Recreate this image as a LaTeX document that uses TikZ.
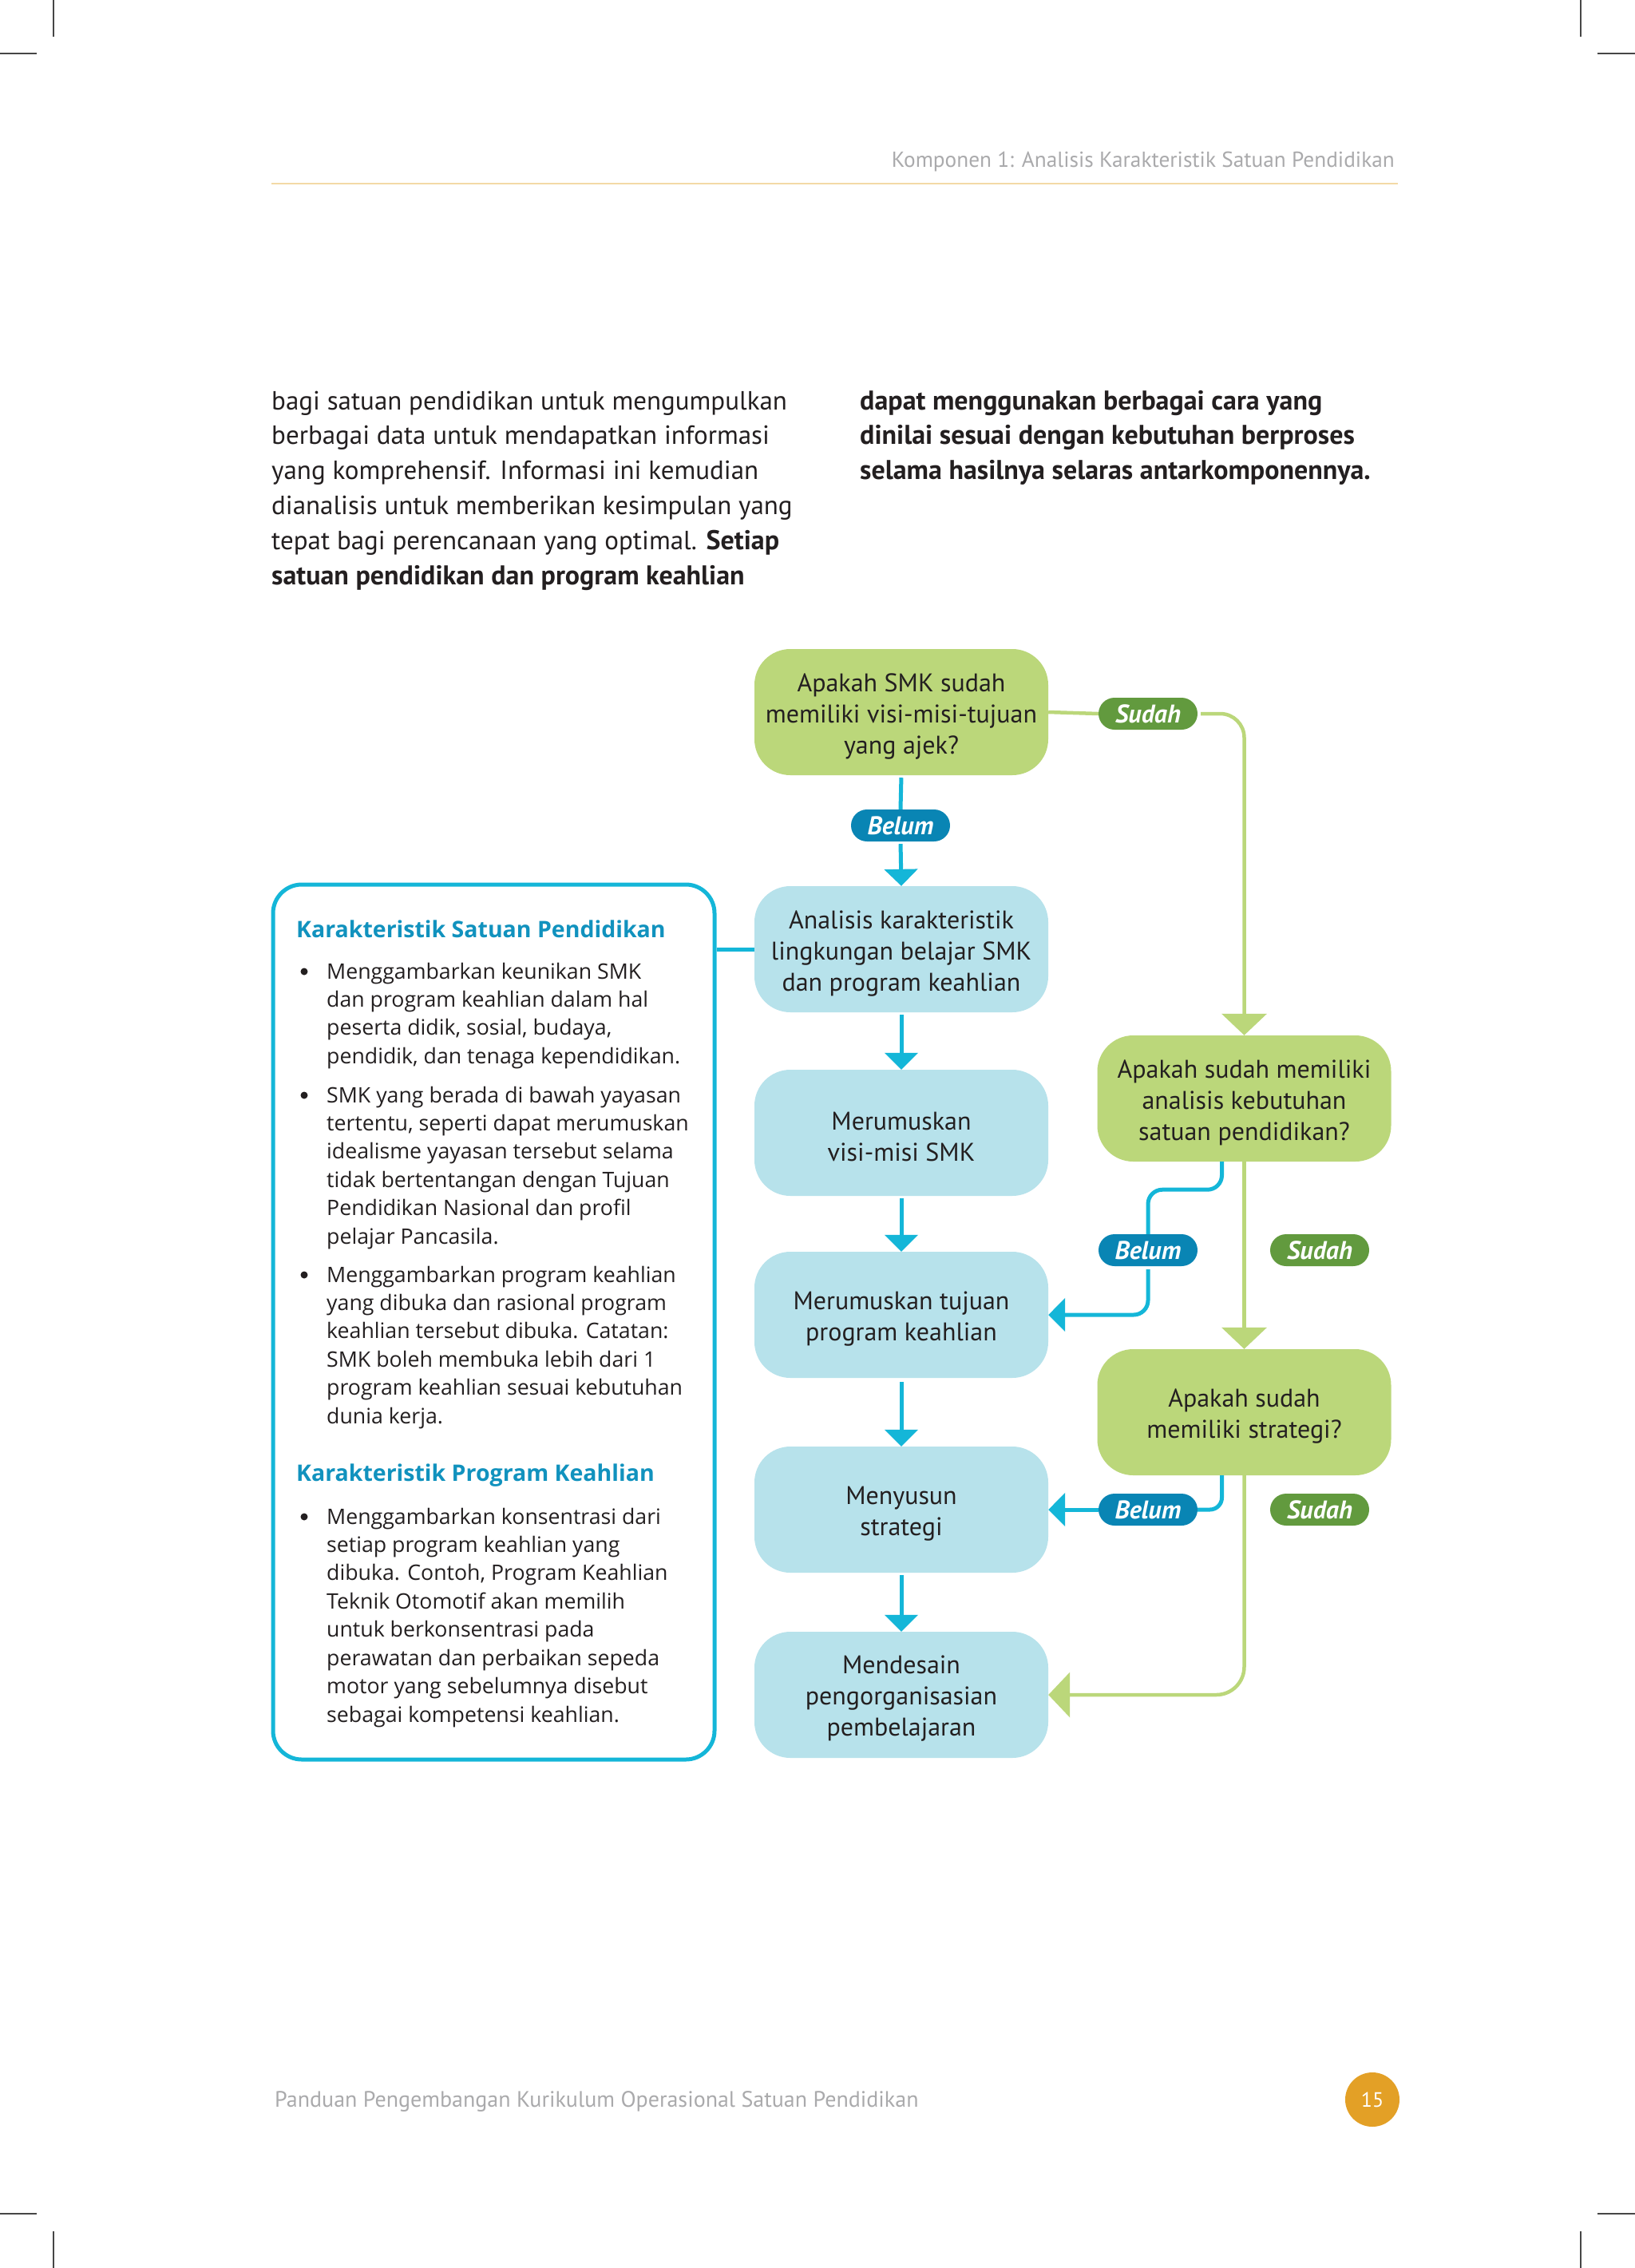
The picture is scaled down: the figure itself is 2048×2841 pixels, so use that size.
\documentclass[tikz,border=0pt]{standalone}
\usepackage{fontspec}
\setmainfont{PT Sans}
\newfontfamily\boxfont{Open Sans}
\usetikzlibrary{arrows.meta,calc}
\definecolor{gfill}{RGB}{187,215,122}
\definecolor{bfill}{RGB}{183,226,235}
\definecolor{cyanline}{RGB}{20,182,216}
\definecolor{belumc}{RGB}{9,133,180}
\definecolor{sudahc}{RGB}{98,154,62}
\definecolor{headc}{RGB}{17,146,190}
\definecolor{graytext}{RGB}{170,170,172}
\definecolor{pageorange}{RGB}{227,160,38}
\definecolor{bodytext}{RGB}{35,31,32}
\definecolor{hline}{RGB}{243,217,166}
\definecolor{cropc}{RGB}{70,70,70}
\newcommand{\bigbold}[1]{{\fontsize{34}{40}\selectfont\bfseries #1}}
\begin{document}
\begin{tikzpicture}[x=1pt,y=-1pt,
  gbox/.style={fill=gfill, rounded corners=45pt, minimum width=368pt, minimum height=158pt, inner sep=0pt},
  bbox/.style={gbox, fill=bfill},
  ftext/.style={inner sep=0pt, align=center, text=bodytext, font=\fontsize{32}{39}\selectfont, yshift=-5pt},
  pillb/.style={fill=belumc, rounded corners=20pt, minimum width=124pt, minimum height=40pt, inner sep=0pt, text=white, font=\fontsize{32}{34}\selectfont\bfseries\itshape},
  pills/.style={pillb, fill=sudahc},
  bl/.style={draw=cyanline, line width=5pt},
  gl/.style={draw=gfill, line width=4.5pt},
  bluearrow/.style={-{Triangle[width=41pt,length=21pt]}},
  greenarrow/.style={-{Triangle[width=56pt,length=27pt]}},
  bodyline/.style={anchor=base west, inner sep=0pt, text=bodytext, font=\fontsize{33}{40}\selectfont},
  boxline/.style={anchor=base west, inner sep=0pt, text=bodytext, font=\boxfont\fontsize{26.7}{33}\selectfont},
  boxhead/.style={anchor=base west, inner sep=0pt, text=headc, font=\boxfont\fontsize{28.5}{33}\selectfont\bfseries},
  bdot/.style={circle, fill=bodytext, minimum size=9pt, inner sep=0pt},
  cropline/.style={draw=cropc, line width=2.5pt}
]
\useasboundingbox (0,0) rectangle (2048,2841);
\fill[white] (0,0) rectangle (2048,2841);

% crop marks
\draw[cropline] (67,0) -- (67,46);
\draw[cropline] (0,67) -- (46,67);
\draw[cropline] (1980,0) -- (1980,46);
\draw[cropline] (2001,67) -- (2048,67);
\draw[cropline] (67,2795) -- (67,2841);
\draw[cropline] (0,2773) -- (46,2773);
\draw[cropline] (1980,2795) -- (1980,2841);
\draw[cropline] (2001,2773) -- (2048,2773);

% header
\node[anchor=base east, inner sep=0pt, text=graytext, font=\fontsize{27.3}{32}\selectfont] (hdr) at (1747,209) {Komponen 1: Analisis Karakteristik Satuan Pendidikan};
\draw[draw=hline, line width=2.5pt] (340,230) -- (1751,230);

% body text
\foreach \t [count=\i from 0] in {
  {bagi satuan pendidikan untuk mengumpulkan},
  {berbagai data untuk mendapatkan informasi},
  {yang komprehensif. Informasi ini kemudian},
  {dianalisis untuk memberikan kesimpulan yang},
  {tepat bagi perencanaan yang optimal. \bigbold{Setiap}},
  {\bigbold{satuan pendidikan dan program keahlian}}}
  \node[bodyline] (pl\i) at (340,{513+\i*43.8}) {\t};
\foreach \t [count=\i from 0] in {
  {dapat menggunakan berbagai cara yang},
  {dinilai sesuai dengan kebutuhan berproses},
  {selama hasilnya selaras antarkomponennya.}}
  \node[bodyline, font=\fontsize{34}{40}\selectfont\bfseries] (pr\i) at (1077,{513+\i*43.8}) {\t};

% left box
\node[draw=cyanline, line width=5pt, rounded corners=36pt, minimum width=553pt, minimum height=1096pt, inner sep=0pt] (kbox) at (618.5,1656) {};
\node[boxhead] (h1) at (371,1174) {Karakteristik Satuan Pendidikan};
\node[boxhead] (h2) at (371,1855) {Karakteristik Program Keahlian};
\node[bdot] (d1) at (381,1217) {};
\node[bdot] (d2) at (381,1372) {};
\node[bdot] (d3) at (381,1597) {};
\node[bdot] (d4) at (381,1900) {};
\foreach \t [count=\i from 0] in {
  {Menggambarkan keunikan SMK},
  {dan program keahlian dalam hal},
  {peserta didik, sosial, budaya,},
  {pendidik, dan tenaga kependidikan.}}
  \node[boxline] (ka\i) at (409,{1226+\i*35.45}) {\t};
\foreach \t [count=\i from 0] in {
  {SMK yang berada di bawah yayasan},
  {tertentu, seperti dapat merumuskan},
  {idealisme yayasan tersebut selama},
  {tidak bertentangan dengan Tujuan},
  {Pendidikan Nasional dan profil},
  {pelajar Pancasila.}}
  \node[boxline] (kb\i) at (409,{1381+\i*35.45}) {\t};
\foreach \t [count=\i from 0] in {
  {Menggambarkan program keahlian},
  {yang dibuka dan rasional program},
  {keahlian tersebut dibuka. Catatan:},
  {SMK boleh membuka lebih dari 1},
  {program keahlian sesuai kebutuhan},
  {dunia kerja.}}
  \node[boxline] (kc\i) at (409,{1606+\i*35.45}) {\t};
\foreach \t [count=\i from 0] in {
  {Menggambarkan konsentrasi dari},
  {setiap program keahlian yang},
  {dibuka. Contoh, Program Keahlian},
  {Teknik Otomotif akan memilih},
  {untuk berkonsentrasi pada},
  {perawatan dan perbaikan sepeda},
  {motor yang sebelumnya disebut},
  {sebagai kompetensi keahlian.}}
  \node[boxline] (kd\i) at (409,{1909+\i*35.45}) {\t};

% flowchart boxes
\node[gbox] (q1) at (1129,892) {};
\node[bbox] (a) at (1129,1189) {};
\node[bbox] (v) at (1129,1419) {};
\node[bbox] (t) at (1129,1647) {};
\node[bbox] (s) at (1129,1891) {};
\node[bbox] (d) at (1129,2123) {};
\node[gbox] (q2) at (1558.5,1376) {};
\node[gbox] (q3) at (1558.5,1769) {};

\node[ftext] (q1t) at (q1.center) {Apakah SMK sudah\\memiliki visi-misi-tujuan\\yang ajek?};
\node[ftext] (at) at (a.center) {Analisis karakteristik\\lingkungan belajar SMK\\dan program keahlian};
\node[ftext] (vt) at (v.center) {Merumuskan\\visi-misi SMK};
\node[ftext] (tt) at (t.center) {Merumuskan tujuan\\program keahlian};
\node[ftext] (st) at (s.center) {Menyusun\\strategi};
\node[ftext] (dt) at (d.center) {Mendesain\\pengorganisasian\\pembelajaran};
\node[ftext] (q2t) at (q2.center) {Apakah sudah memiliki\\analisis kebutuhan\\satuan pendidikan?};
\node[ftext] (q3t) at (q3.center) {Apakah sudah\\memiliki strategi?};

% pills
\node[pillb] (b1) at (1128,1034) {Belum};
\node[pills] (s1) at (1438,894) {Sudah};
\node[pillb] (b2) at (1438,1566) {Belum};
\node[pills] (s2) at (1653,1566) {Sudah};
\node[pillb] (b3) at (1438,1891) {Belum};
\node[pills] (s3) at (1653,1891) {Sudah};

% connectors
\draw[bl] (kbox.east |- a.west) -- (a.west);
\draw[bl, shorten <=3pt] (q1.south) -- (b1.north);
\draw[bl, bluearrow, shorten <=3pt] (b1.south) -- (a.north);
\draw[bl, bluearrow, shorten <=3pt] (a.south) -- (v.north);
\draw[bl, bluearrow, shorten <=3pt] (v.south) -- (t.north);
\draw[bl, bluearrow, shorten <=5pt] (t.south) -- (s.north);
\draw[bl, bluearrow, shorten <=3pt] (s.south) -- (d.north);

\draw[gl] (q1.east) -- (s1.west);
\draw[gl, greenarrow, rounded corners=30pt, shorten <=4pt] (s1.east) -| (q2.north);
\draw[gl, greenarrow] (q2.south) -- (q3.north);

\draw[bl, rounded corners=18pt] ([xshift=-28pt]q2.south) -- ++(0,35) -| (b2.north);
\draw[bl, bluearrow, rounded corners=18pt, shorten <=4pt] (b2.south) |- (t.east);

\draw[bl, rounded corners=15pt] ([xshift=-28pt]q3.south) |- (b3.east);
\draw[bl, bluearrow] (b3.west) -- (s.east);

\draw[gl, greenarrow, rounded corners=35pt] (q3.south) |- (d.east);

% footer
\node[anchor=base west, inner sep=0pt, text=graytext, font=\fontsize{28}{32}\selectfont] (ftr) at (344,2639) {Panduan Pengembangan Kurikulum Operasional Satuan Pendidikan};
\node[circle, fill=pageorange, minimum size=68pt, inner sep=0pt, text=white, font=\fontsize{26}{30}\selectfont] (pg) at (1719,2630) {15};
\end{tikzpicture}
\end{document}
